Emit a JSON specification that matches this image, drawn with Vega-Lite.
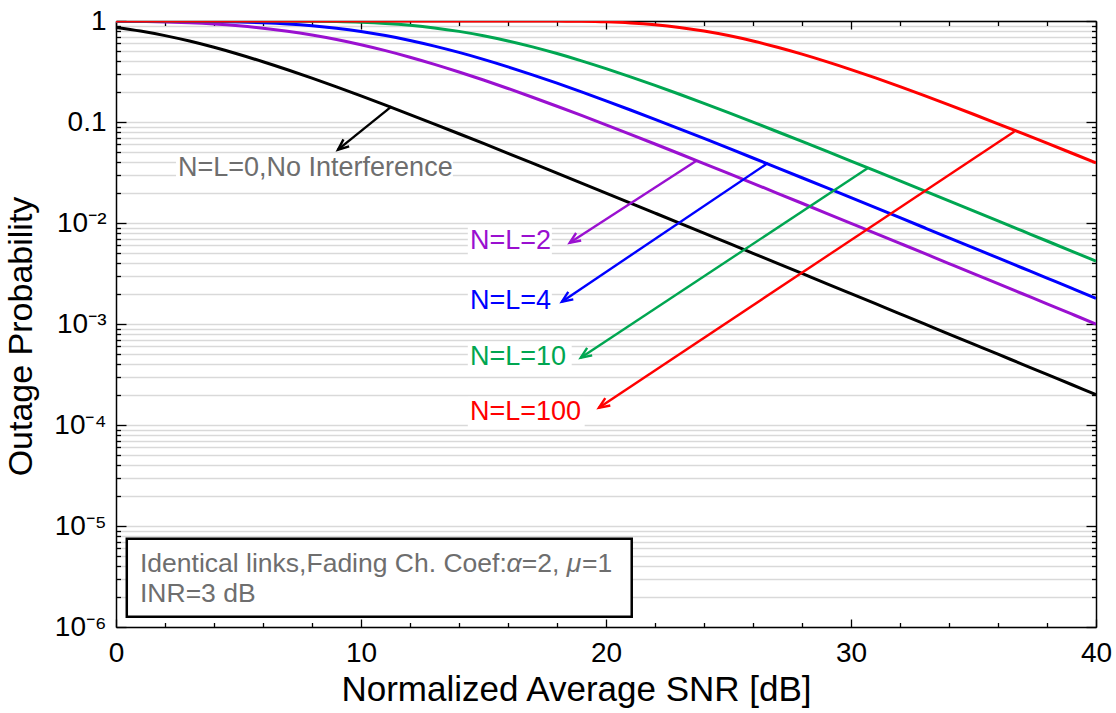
{
  "$schema": "https://vega.github.io/schema/vega-lite/v6.json",
  "width": 980,
  "height": 606,
  "autosize": "none",
  "padding": {"left": 116, "top": 21, "right": 20, "bottom": 86},
  "background": "white",
  "config": {
    "view": {"stroke": null},
    "font": "Liberation Sans",
    "axis": {
      "domainColor": "black", "domainWidth": 1.5,
      "tickColor": "black", "tickWidth": 1.3,
      "labelColor": "black", "labelFontSize": 28,
      "titleFontSize": 35, "titleFontWeight": "normal", "titleColor": "black",
      "labelFlush": false, "labelOverlap": false, "grid": false
    }
  },
  "datasets": {
    "curves": [
      {"s":"0","x":0,"p":0.864665},{"s":"0","x":1,"p":0.7958},{"s":"0","x":2,"p":0.716888},{"s":"0","x":3,"p":0.632993},{"s":"0","x":4,"p":0.548967},{"s":"0","x":5,"p":0.468714},{"s":"0","x":6,"p":0.394909},{"s":"0","x":7,"p":0.329044},{"s":"0","x":8,"p":0.271654},{"s":"0","x":9,"p":0.222588},{"s":"0","x":10,"p":0.181269},
      {"s":"0","x":11,"p":0.146888},{"s":"0","x":12,"p":0.118553},{"s":"0","x":13,"p":0.095377},{"s":"0","x":14,"p":0.076533},{"s":"0","x":15,"p":0.061287},{"s":"0","x":16,"p":0.048997},{"s":"0","x":17,"p":0.03912},{"s":"0","x":18,"p":0.031201},{"s":"0","x":19,"p":0.024864},{"s":"0","x":20,"p":0.019801},
      {"s":"0","x":21,"p":0.015761},{"s":"0","x":22,"p":0.01254},{"s":"0","x":23,"p":0.009974},{"s":"0","x":24,"p":0.00793},{"s":"0","x":25,"p":0.006305},{"s":"0","x":26,"p":0.005011},{"s":"0","x":27,"p":0.003983},{"s":"0","x":28,"p":0.003165},{"s":"0","x":29,"p":0.002515},{"s":"0","x":30,"p":0.001998},
      {"s":"0","x":31,"p":0.0015874},{"s":"0","x":32,"p":0.0012612},{"s":"0","x":33,"p":0.0010019},{"s":"0","x":34,"p":0.0007959},{"s":"0","x":35,"p":0.00063226},{"s":"0","x":36,"p":0.00050225},{"s":"0","x":37,"p":0.00039897},{"s":"0","x":38,"p":0.00031693},{"s":"0","x":39,"p":0.00025175},{"s":"0","x":40,"p":0.00019998},

      {"s":"2","x":0,"p":0.994587},{"s":"2","x":1,"p":0.988298},{"s":"2","x":2,"p":0.9772},{"s":"2","x":3,"p":0.95935},{"s":"2","x":4,"p":0.932888},{"s":"2","x":5,"p":0.896432},{"s":"2","x":6,"p":0.849443},{"s":"2","x":7,"p":0.792478},{"s":"2","x":8,"p":0.727193},{"s":"2","x":9,"p":0.656122},{"s":"2","x":10,"p":0.58228},
      {"s":"2","x":11,"p":0.508695},{"s":"2","x":12,"p":0.438019},{"s":"2","x":13,"p":0.372287},{"s":"2","x":14,"p":0.312817},{"s":"2","x":15,"p":0.260263},{"s":"2","x":16,"p":0.214726},{"s":"2","x":17,"p":0.17591},{"s":"2","x":18,"p":0.143268},{"s":"2","x":19,"p":0.116124},{"s":"2","x":20,"p":0.093752},
      {"s":"2","x":21,"p":0.075447},{"s":"2","x":22,"p":0.060559},{"s":"2","x":23,"p":0.048506},{"s":"2","x":24,"p":0.038787},{"s":"2","x":25,"p":0.030975},{"s":"2","x":26,"p":0.024709},{"s":"2","x":27,"p":0.019693},{"s":"2","x":28,"p":0.015685},{"s":"2","x":29,"p":0.012485},{"s":"2","x":30,"p":0.009934},
      {"s":"2","x":31,"p":0.0079018},{"s":"2","x":32,"p":0.0062834},{"s":"2","x":33,"p":0.0049953},{"s":"2","x":34,"p":0.0039707},{"s":"2","x":35,"p":0.0031557},{"s":"2","x":36,"p":0.0025078},{"s":"2","x":37,"p":0.0019927},{"s":"2","x":38,"p":0.0015833},{"s":"2","x":39,"p":0.001258},{"s":"2","x":40,"p":0.0009993},

      {"s":"4","x":0,"p":0.999784},{"s":"4","x":1,"p":0.999329},{"s":"4","x":2,"p":0.998164},{"s":"4","x":3,"p":0.995497},{"s":"4","x":4,"p":0.990014},{"s":"4","x":5,"p":0.979811},{"s":"4","x":6,"p":0.962539},{"s":"4","x":7,"p":0.935815},{"s":"4","x":8,"p":0.897818},{"s":"4","x":9,"p":0.84789},{"s":"4","x":10,"p":0.786878},
      {"s":"4","x":11,"p":0.717058},{"s":"4","x":12,"p":0.6417},{"s":"4","x":13,"p":0.564434},{"s":"4","x":14,"p":0.488644},{"s":"4","x":15,"p":0.417061},{"s":"4","x":16,"p":0.351573},{"s":"4","x":17,"p":0.293227},{"s":"4","x":18,"p":0.242374},{"s":"4","x":19,"p":0.198843},{"s":"4","x":20,"p":0.162123},
      {"s":"4","x":21,"p":0.131513},{"s":"4","x":22,"p":0.10624},{"s":"4","x":23,"p":0.085538},{"s":"4","x":24,"p":0.068686},{"s":"4","x":25,"p":0.055033},{"s":"4","x":26,"p":0.044015},{"s":"4","x":27,"p":0.035157},{"s":"4","x":28,"p":0.028047},{"s":"4","x":29,"p":0.022356},{"s":"4","x":30,"p":0.017808},
      {"s":"4","x":31,"p":0.014176},{"s":"4","x":32,"p":0.01128},{"s":"4","x":33,"p":0.0089726},{"s":"4","x":34,"p":0.0071354},{"s":"4","x":35,"p":0.0056727},{"s":"4","x":36,"p":0.0045094},{"s":"4","x":37,"p":0.0035839},{"s":"4","x":38,"p":0.0028481},{"s":"4","x":39,"p":0.0022632},{"s":"4","x":40,"p":0.001798},

      {"s":"10","x":0,"p":1},{"s":"10","x":1,"p":1},{"s":"10","x":2,"p":0.999999},{"s":"10","x":3,"p":0.999994},{"s":"10","x":4,"p":0.999967},{"s":"10","x":5,"p":0.99985},{"s":"10","x":6,"p":0.999423},{"s":"10","x":7,"p":0.998101},{"s":"10","x":8,"p":0.99463},{"s":"10","x":9,"p":0.986835},{"s":"10","x":10,"p":0.971695},
      {"s":"10","x":11,"p":0.945958},{"s":"10","x":12,"p":0.907141},{"s":"10","x":13,"p":0.854476},{"s":"10","x":14,"p":0.789294},{"s":"10","x":15,"p":0.714729},{"s":"10","x":16,"p":0.634927},{"s":"10","x":17,"p":0.554142},{"s":"10","x":18,"p":0.476054},{"s":"10","x":19,"p":0.403382},{"s":"10","x":20,"p":0.337815},
      {"s":"10","x":21,"p":0.280125},{"s":"10","x":22,"p":0.230388},{"s":"10","x":23,"p":0.18821},{"s":"10","x":24,"p":0.152913},{"s":"10","x":25,"p":0.123681},{"s":"10","x":26,"p":0.099673},{"s":"10","x":27,"p":0.080095},{"s":"10","x":28,"p":0.064213},{"s":"10","x":29,"p":0.051382},{"s":"10","x":30,"p":0.041053},
      {"s":"10","x":31,"p":0.032763},{"s":"10","x":32,"p":0.026122},{"s":"10","x":33,"p":0.02081},{"s":"10","x":34,"p":0.016569},{"s":"10","x":35,"p":0.013186},{"s":"10","x":36,"p":0.01049},{"s":"10","x":37,"p":0.008342},{"s":"10","x":38,"p":0.0066329},{"s":"10","x":39,"p":0.0052728},{"s":"10","x":40,"p":0.0041902},

      {"s":"100","x":0,"p":1},{"s":"100","x":1,"p":1},{"s":"100","x":2,"p":1},{"s":"100","x":3,"p":1},{"s":"100","x":4,"p":1},{"s":"100","x":5,"p":1},{"s":"100","x":6,"p":1},{"s":"100","x":7,"p":1},{"s":"100","x":8,"p":1},{"s":"100","x":9,"p":1},{"s":"100","x":10,"p":1},
      {"s":"100","x":11,"p":1},{"s":"100","x":12,"p":1},{"s":"100","x":13,"p":1},{"s":"100","x":14,"p":1},{"s":"100","x":15,"p":0.999994},{"s":"100","x":16,"p":0.999934},{"s":"100","x":17,"p":0.999555},{"s":"100","x":18,"p":0.997927},{"s":"100","x":19,"p":0.992832},{"s":"100","x":20,"p":0.980592},
      {"s":"100","x":21,"p":0.956881},{"s":"100","x":22,"p":0.918334},{"s":"100","x":23,"p":0.863976},{"s":"100","x":24,"p":0.795638},{"s":"100","x":25,"p":0.717287},{"s":"100","x":26,"p":0.633866},{"s":"100","x":27,"p":0.55019},{"s":"100","x":28,"p":0.470133},{"s":"100","x":29,"p":0.396384},{"s":"100","x":30,"p":0.330484},
      {"s":"100","x":31,"p":0.272993},{"s":"100","x":32,"p":0.223789},{"s":"100","x":33,"p":0.18231},{"s":"100","x":34,"p":0.147785},{"s":"100","x":35,"p":0.119303},{"s":"100","x":36,"p":0.096006},{"s":"100","x":37,"p":0.077049},{"s":"100","x":38,"p":0.061711},{"s":"100","x":39,"p":0.049343},{"s":"100","x":40,"p":0.039393}
    ],
    "arrows": [
      {"s":"0","x":11.25,"y":0.1427,"x2":9.06,"y2":0.0532},
      {"s":"2","x":23.69,"y":0.0414,"x2":18.52,"y2":0.00638},
      {"s":"4","x":26.61,"y":0.0393,"x2":18.2,"y2":0.001663},
      {"s":"10","x":30.69,"y":0.035,"x2":18.97,"y2":0.000464},
      {"s":"100","x":36.67,"y":0.0807,"x2":19.71,"y2":0.000148}
    ],
    "labels": [
      {"s":"2","t":"N=L=2","x":14.45,"y":0.00668},
      {"s":"4","t":"N=L=4","x":14.45,"y":0.0017},
      {"s":"10","t":"N=L=10","x":14.45,"y":0.000474},
      {"s":"100","t":"N=L=100","x":14.45,"y":0.000135}
    ],
    "note": [
      {"t":"N=L=0,No Interference","x":2.53,"y":0.0349}
    ],
    "bgs": [
      {"x":2.45,"x2":13.75,"y":0.0474,"y2":0.0256},
      {"x":14.36,"x2":17.79,"y":0.0094,"y2":0.00454},
      {"x":14.36,"x2":17.79,"y":0.00239,"y2":0.00121},
      {"x":14.36,"x2":18.6,"y":0.000668,"y2":0.000337},
      {"x":14.36,"x2":19.13,"y":0.00019,"y2":0.000094}
    ],
    "box": [
      {"x":0.44,"x2":21.05,"y":7.48e-6,"y2":1.264e-6}
    ],
    "boxtext": [
      {"t":"Identical links,Fading Ch. Coef:","x":0.98,"y":4.17e-6},
      {"t":"=2,","x":16.56,"y":4.17e-6},
      {"t":"=1","x":19.02,"y":4.17e-6},
      {"t":"INR=3 dB","x":0.98,"y":2.11e-6}
    ],
    "boxgreek": [
      {"t":"α","x":15.94,"y":4.17e-6},
      {"t":"μ","x":18.4,"y":4.17e-6}
    ]
  },
  "layer": [
    {
      "data": {"name": "curves"},
      "mark": {"type": "point", "opacity": 0},
      "encoding": {
        "x": {"field": "x", "type": "quantitative", "scale": {"domain": [0, 40], "nice": false, "zero": false},
          "axis": {"orient": "top", "values": [0,2,4,6,8,10,12,14,16,18,20,22,24,26,28,30,32,34,36,38,40], "labels": false, "title": null,
            "tickSize": {"condition": {"test": "datum.value % 10 == 0", "value": -8}, "value": -4.5}}},
        "y": {"field": "p", "type": "quantitative", "scale": {"type": "log", "domain": [1e-6, 1], "nice": false},
          "axis": {"orient": "right", "labels": false, "title": null,
            "values": [1e-6,2e-6,3e-6,4e-6,5e-6,6e-6,7e-6,8e-6,9e-6,1e-5,2e-5,3e-5,4e-5,5e-5,6e-5,7e-5,8e-5,9e-5,1e-4,2e-4,3e-4,4e-4,5e-4,6e-4,7e-4,8e-4,9e-4,1e-3,2e-3,3e-3,4e-3,5e-3,6e-3,7e-3,8e-3,9e-3,0.01,0.02,0.03,0.04,0.05,0.06,0.07,0.08,0.09,0.1,0.2,0.3,0.4,0.5,0.6,0.7,0.8,0.9,1],
            "tickSize": {"condition": {"test": "abs(log(datum.value)/LN10 - round(log(datum.value)/LN10)) < 0.001", "value": -10}, "value": -4.5}}}
      }
    },
    {
      "data": {"name": "curves"},
      "mark": {"type": "line", "strokeWidth": 3, "clip": true, "interpolate": "monotone"},
      "encoding": {
        "x": {"field": "x", "type": "quantitative",
          "axis": {"orient": "bottom", "values": [0,2,4,6,8,10,12,14,16,18,20,22,24,26,28,30,32,34,36,38,40],
            "labelExpr": "datum.value % 10 == 0 ? datum.label : ''", "labelPadding": 20,
            "tickSize": {"condition": {"test": "datum.value % 10 == 0", "value": -8}, "value": -4.5},
            "title": "Normalized Average SNR [dB]", "titleX": 460, "titleY": 73, "titleBaseline": "alphabetic", "titleAlign": "center"}},
        "y": {"field": "p", "type": "quantitative",
          "axis": {"orient": "left", "grid": true, "gridColor": "#d9d9d9", "gridWidth": 1.5,
            "values": [1e-6,2e-6,3e-6,4e-6,5e-6,6e-6,7e-6,8e-6,9e-6,1e-5,2e-5,3e-5,4e-5,5e-5,6e-5,7e-5,8e-5,9e-5,1e-4,2e-4,3e-4,4e-4,5e-4,6e-4,7e-4,8e-4,9e-4,1e-3,2e-3,3e-3,4e-3,5e-3,6e-3,7e-3,8e-3,9e-3,0.01,0.02,0.03,0.04,0.05,0.06,0.07,0.08,0.09,0.1,0.2,0.3,0.4,0.5,0.6,0.7,0.8,0.9,1],
            "labelExpr": "abs(log(datum.value)/LN10 - round(log(datum.value)/LN10)) > 0.001 ? '' : ['10⁻⁶','10⁻⁵','10⁻⁴','10⁻³','10⁻²','0.1','1'][round(log(datum.value)/LN10)+6]",
            "labelPadding": 20,
            "tickSize": {"condition": {"test": "abs(log(datum.value)/LN10 - round(log(datum.value)/LN10)) < 0.001", "value": -10}, "value": -4.5},
            "title": "Outage Probability", "titleFontSize": 34, "titleX": -85, "titleY": 315, "titleBaseline": "alphabetic", "titleAlign": "center", "titleAngle": -90}},
        "color": {"field": "s", "type": "nominal", "legend": null,
          "scale": {"domain": ["0","2","4","10","100"], "range": ["#000000","#9A10D0","#0000FF","#00A651","#FF0000"]}}
      }
    },
    {
      "data": {"name": "bgs"},
      "mark": {"type": "rect", "fill": "white"},
      "encoding": {
        "x": {"field": "x", "type": "quantitative", "axis": null},
        "x2": {"field": "x2"},
        "y": {"field": "y", "type": "quantitative", "axis": null},
        "y2": {"field": "y2"}
      }
    },
    {
      "data": {"name": "arrows"},
      "mark": {"type": "rule", "strokeWidth": 2.4},
      "encoding": {
        "x": {"field": "x", "type": "quantitative", "axis": null},
        "x2": {"field": "x2"},
        "y": {"field": "y", "type": "quantitative", "axis": null},
        "y2": {"field": "y2"},
        "color": {"field": "s", "type": "nominal", "legend": null}
      }
    },
    {
      "data": {"name": "arrows"},
      "transform": [{"filter": "datum.s != '0'"}],
      "mark": {"type": "point", "shape": "M-0.42,-1L0,0L0.42,-1", "filled": false, "strokeWidth": 2.4, "size": 460, "angle": 56, "opacity": 1},
      "encoding": {
        "x": {"field": "x2", "type": "quantitative", "axis": null},
        "y": {"field": "y2", "type": "quantitative", "axis": null},
        "color": {"field": "s", "type": "nominal", "legend": null}
      }
    },
    {
      "data": {"name": "arrows"},
      "transform": [{"filter": "datum.s == '0'"}],
      "mark": {"type": "point", "shape": "M-0.42,-1L0,0L0.42,-1", "filled": false, "strokeWidth": 2.4, "size": 460, "angle": 51, "opacity": 1},
      "encoding": {
        "x": {"field": "x2", "type": "quantitative", "axis": null},
        "y": {"field": "y2", "type": "quantitative", "axis": null},
        "color": {"field": "s", "type": "nominal", "legend": null}
      }
    },
    {
      "data": {"name": "labels"},
      "mark": {"type": "text", "align": "left", "baseline": "middle", "fontSize": 27},
      "encoding": {
        "x": {"field": "x", "type": "quantitative", "axis": null},
        "y": {"field": "y", "type": "quantitative", "axis": null},
        "text": {"field": "t"},
        "color": {"field": "s", "type": "nominal", "legend": null}
      }
    },
    {
      "data": {"name": "note"},
      "mark": {"type": "text", "align": "left", "baseline": "middle", "fontSize": 27, "color": "#6E6E6E"},
      "encoding": {
        "x": {"field": "x", "type": "quantitative", "axis": null},
        "y": {"field": "y", "type": "quantitative", "axis": null},
        "text": {"field": "t"}
      }
    },
    {
      "data": {"name": "box"},
      "mark": {"type": "rect", "fill": "white", "stroke": "black", "strokeWidth": 2.5},
      "encoding": {
        "x": {"field": "x", "type": "quantitative", "axis": null},
        "x2": {"field": "x2"},
        "y": {"field": "y", "type": "quantitative", "axis": null},
        "y2": {"field": "y2"}
      }
    },
    {
      "data": {"name": "boxtext"},
      "mark": {"type": "text", "align": "left", "baseline": "middle", "fontSize": 26.5, "color": "#6E6E6E"},
      "encoding": {
        "x": {"field": "x", "type": "quantitative", "axis": null},
        "y": {"field": "y", "type": "quantitative", "axis": null},
        "text": {"field": "t"}
      }
    },
    {
      "data": {"name": "boxgreek"},
      "mark": {"type": "text", "align": "left", "baseline": "middle", "fontSize": 26.5, "fontStyle": "italic", "color": "#6E6E6E"},
      "encoding": {
        "x": {"field": "x", "type": "quantitative", "axis": null},
        "y": {"field": "y", "type": "quantitative", "axis": null},
        "text": {"field": "t"}
      }
    }
  ],
  "resolve": {"scale": {"x": "shared", "y": "shared", "color": "shared"}, "axis": {"x": "independent", "y": "independent"}}
}
